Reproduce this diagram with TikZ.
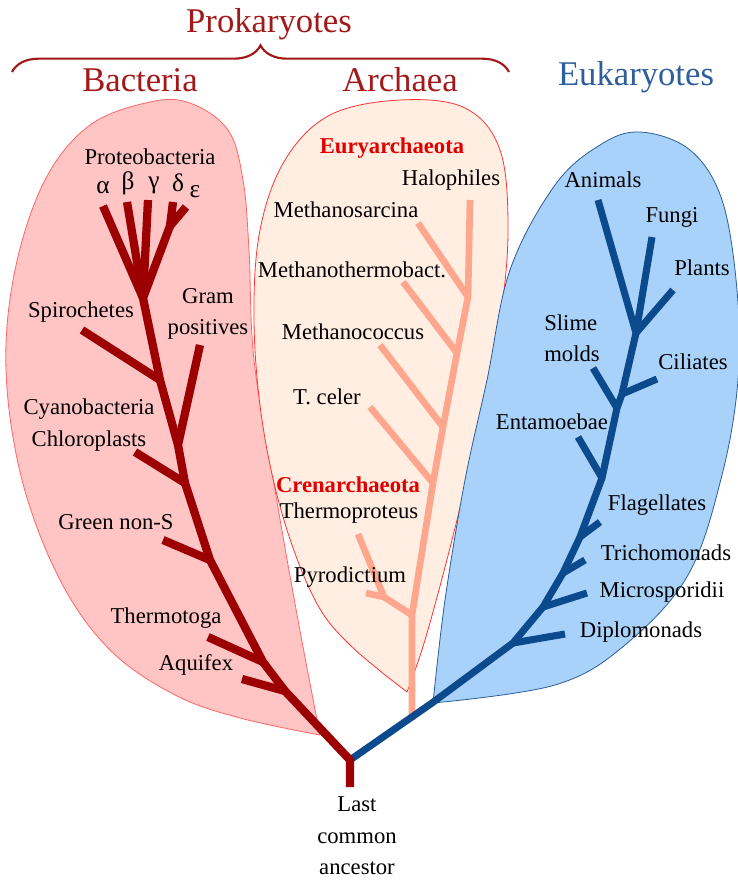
\documentclass[tikz,border=0pt]{standalone}
\usepackage{fontspec}
\setmainfont{Liberation Serif}
\usepackage{tikz}
\usetikzlibrary{decorations.pathreplacing}
\definecolor{bacttree}{HTML}{9C0000}
\definecolor{bactfill}{HTML}{FFC4C4}
\definecolor{bactedge}{HTML}{FF6666}
\definecolor{archtree}{HTML}{FFA78E}
\definecolor{archfill}{HTML}{FFEEE1}
\definecolor{archedge}{HTML}{FF3333}
\definecolor{euktree}{HTML}{0B4A8C}
\definecolor{eukfill}{HTML}{A9D2FB}
\definecolor{eukedge}{HTML}{2A5D98}
\definecolor{prored}{HTML}{A31818}
\definecolor{eukblue}{HTML}{2E5E9C}
\definecolor{cladered}{HTML}{E00000}

\begin{document}
\begin{tikzpicture}[
  x=0.75pt,y=-0.75pt,
  taxon/.style={font=\fontsize{17}{23.5}\selectfont,inner sep=1pt,align=center},
  greek/.style={font=\fontsize{19}{20}\selectfont,inner sep=1pt},
  clade/.style={font=\fontsize{17}{19}\selectfont\bfseries,text=cladered,inner sep=1pt},
  kingdom/.style={font=\fontsize{26}{28}\selectfont,inner sep=1pt},
  bactbr/.style={draw=bacttree,line width=6.2pt,line join=round},
  archbr/.style={draw=archtree,line width=5pt,line join=round},
  eukbr/.style={draw=euktree,line width=5.3pt,line join=round}
]
  \useasboundingbox (0,0) rectangle (738,883);

  % the three coloured domains
  \filldraw[fill=bactfill,draw=bactedge,line width=0.6pt]
    plot[smooth,tension=0.6] coordinates {(320,735) (298,620) (275,490) (254,360)
      (249,250) (243,180) (228,130) (190,103) (150,102) (90,125) (45,180) (15,270)
      (6,370) (22,480) (60,580) (110,650) (175,695) (240,718) (320,735)};
  \filldraw[fill=archfill,draw=archedge,line width=0.6pt]
    plot[smooth,tension=0.6] coordinates {(407,692) (350,645) (315,600) (283,517)
      (262,420) (254,320) (260,230) (285,160) (330,115) (400,100) (465,108)
      (500,150) (508,230) (500,320) (478,430) (452,540) (425,640) (407,692)};
  \filldraw[fill=eukfill,draw=eukedge,line width=0.6pt]
    plot[smooth,tension=0.6] coordinates {(433,703) (445,600) (465,480) (487,380)
      (510,270) (555,185) (600,145) (640,132) (690,150) (722,200) (737,290)
      (738,380) (722,475) (688,575) (625,645) (555,685) (433,703)};

  % titles
  \node[kingdom,text=prored] (prok) at (269,24) {Prokaryotes};
  \node[kingdom,text=prored] (bact) at (140,80) {Bacteria};
  \node[kingdom,text=prored] (arch) at (400,80) {Archaea};
  \node[kingdom,text=eukblue] (euk) at (636,77) {Eukaryotes};
  \coordinate (braceL) at (12,72);
  \coordinate (braceR) at (509,72);
  \draw[prored,line width=1.6pt,decorate,decoration={brace,amplitude=20pt}]
    (braceL) -- (braceR);

  % root
  \coordinate (stem) at (350,787);
  \coordinate (root) at (350,760);

  % archaea
  \coordinate (aBase) at (412,720);
  \coordinate (aPyr) at (412,615);
  \coordinate (aCel) at (433,483);
  \coordinate (aCoc) at (443,427);
  \coordinate (aMth) at (457,353);
  \coordinate (aSar) at (468,297);
  \coordinate (aHal) at (470,200);
  \coordinate (aFork) at (384,597);
  \coordinate (tThp) at (358,534);
  \coordinate (tPyr) at (366,593);
  \coordinate (tCel) at (370,407);
  \coordinate (tCoc) at (380,345);
  \coordinate (tMth) at (403,282);
  \coordinate (tSar) at (418,223);
  \draw[archbr] (aBase) -- (aPyr) -- (aCel) -- (aCoc) -- (aMth) -- (aSar) -- (aHal);
  \draw[archbr] (tThp) -- (aFork) -- (aPyr);
  \draw[archbr] (tPyr) -- (aFork);
  \foreach \j/\t in {aCel/tCel,aCoc/tCoc,aMth/tMth,aSar/tSar}
    \draw[archbr] (\j) -- (\t);

  % eukaryotes
  \coordinate (eBend) at (432,703);
  \coordinate (eDip) at (513,643);
  \coordinate (eMic) at (543,607);
  \coordinate (eTri) at (563,573);
  \coordinate (eFla) at (580,537);
  \coordinate (eEnt) at (602,478);
  \coordinate (eSli) at (617,408);
  \coordinate (eCil) at (622,394);
  \coordinate (eCrown) at (636,333);
  \coordinate (tAni) at (598,200);
  \coordinate (tFun) at (652,237);
  \coordinate (tPla) at (673,290);
  \coordinate (tCil) at (657,379);
  \coordinate (tSli) at (593,368);
  \coordinate (tEnt) at (578,437);
  \coordinate (tFla) at (600,522);
  \coordinate (tTri) at (585,560);
  \coordinate (tMic) at (587,593);
  \coordinate (tDip) at (565,634);
  \draw[eukbr] (root) -- (eBend) -- (eDip) -- (eMic) -- (eTri) -- (eFla) -- (eEnt)
    -- (eSli) -- (eCil) -- (eCrown) -- (tAni);
  \foreach \j/\t in {eCrown/tFun,eCrown/tPla,eCil/tCil,eSli/tSli,eEnt/tEnt,
                     eFla/tFla,eTri/tTri,eMic/tMic,eDip/tDip}
    \draw[eukbr] (\j) -- (\t);

  % bacteria
  \coordinate (bAqu) at (285,691);
  \coordinate (bThe) at (263,662);
  \coordinate (bGrn) at (210,560);
  \coordinate (bChl) at (185,483);
  \coordinate (bGram) at (178,445);
  \coordinate (bSpi) at (160,380);
  \coordinate (bPro) at (143,298);
  \coordinate (bDE) at (170,226);
  \coordinate (tAqu) at (242,679);
  \coordinate (tThe) at (208,637);
  \coordinate (tGrn) at (163,540);
  \coordinate (tChl) at (135,452);
  \coordinate (tGram) at (200,345);
  \coordinate (tSpi) at (82,330);
  \coordinate (tAlp) at (103,206);
  \coordinate (tBet) at (127,202);
  \coordinate (tGam) at (148,200);
  \coordinate (tDel) at (173,202);
  \coordinate (tEps) at (186,207);
  \draw[bactbr] (stem) -- (root) -- (bAqu) -- (bThe) -- (bGrn) -- (bChl) -- (bGram)
    -- (bSpi) -- (bPro) -- (bDE) -- (tDel);
  \foreach \j/\t in {bAqu/tAqu,bThe/tThe,bGrn/tGrn,bChl/tChl,bGram/tGram,
                     bSpi/tSpi,bPro/tAlp,bPro/tBet,bPro/tGam,bDE/tEps}
    \draw[bactbr] (\j) -- (\t);

  % bacteria labels
  \node[taxon] (proteo) at (150,157) {Proteobacteria};
  \node[greek] (alpha) at (103,188) {α};
  \node[greek] (beta) at (128,183) {β};
  \node[greek] (gamma) at (154,185) {γ};
  \node[greek] (delta) at (178,183) {δ};
  \node[greek] (eps) at (195,192) {ε};
  \node[taxon] (spiro) at (81,312) {Spirochetes};
  \node[taxon] (gram) at (208,314) {Gram\\positives};
  \node[taxon] (cyano) at (89,425) {Cyanobacteria\\Chloroplasts};
  \node[taxon] (green) at (116,522) {Green non-S};
  \node[taxon] (thermotoga) at (166,618) {Thermotoga};
  \node[taxon] (aquifex) at (196,665) {Aquifex};

  % archaea labels
  \node[clade] (eury) at (392,148) {Euryarchaeota};
  \node[taxon] (halo) at (451,180) {Halophiles};
  \node[taxon] (sarcina) at (346,210) {Methanosarcina};
  \node[taxon] (mthermo) at (352,270) {Methanothermobact.};
  \node[taxon] (mcoccus) at (353,332) {Methanococcus};
  \node[taxon] (celer) at (327,397) {T. celer};
  \node[clade] (cren) at (348,485) {Crenarchaeota};
  \node[taxon] (thermoproteus) at (349,513) {Thermoproteus};
  \node[taxon] (pyro) at (350,577) {Pyrodictium};

  % eukaryote labels
  \node[taxon] (animals) at (603,180) {Animals};
  \node[taxon] (fungi) at (672,217) {Fungi};
  \node[taxon] (plants) at (702,268) {Plants};
  \node[taxon,align=left] (slime) at (572,338) {Slime\\molds};
  \node[taxon] (ciliates) at (693,362) {Ciliates};
  \node[taxon] (entamoebae) at (552,422) {Entamoebae};
  \node[taxon] (flagellates) at (657,505) {Flagellates};
  \node[taxon] (tricho) at (666,553) {Trichomonads};
  \node[taxon] (micro) at (662,592) {Microsporidii};
  \node[taxon] (diplo) at (641,632) {Diplomonads};

  % ancestor
  \node[taxon] (luca) at (357,836) {Last\\common\\ancestor};
\end{tikzpicture}
\end{document}
